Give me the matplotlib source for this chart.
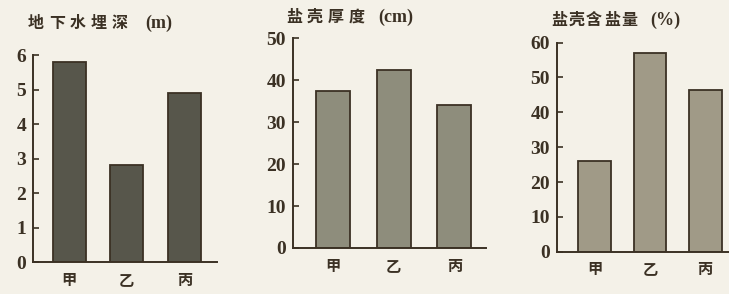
import matplotlib.pyplot as plt

plt.rcParams['font.family'] = ['Liberation Serif', 'Noto Sans CJK SC']

cats = ['甲', '乙', '丙']
depth = [5.8, 2.8, 4.9]        # 地下水埋深 (m)
crust = [37.5, 42.5, 34]       # 盐壳厚度 (cm)
salt = [26, 57, 46.5]          # 盐壳含盐量 (%)

titles = ['地下水埋深', '盐壳厚度', '盐壳含盐量']
units = ['(m)', '(cm)', '(%)']
yticks = [range(0, 7), range(0, 51, 10), range(0, 61, 10)]
ylims = [6, 50, 60]

bg = '#f4f1e8'
ink = '#3b3124'

fig = plt.figure(figsize=(7.29, 2.94), dpi=100, facecolor=bg)

# axes boxes in figure fraction
boxes = [[0.0453, 0.1088, 0.2524, 0.704],
         [0.4019, 0.1565, 0.2647, 0.713],
         [0.764, 0.1439, 0.236, 0.711]]
xlims = [(-0.63, 2.57), (-0.66, 2.52), (-0.68, 2.43)]
widths = [0.57, 0.56, 0.59]
colors = ['#57564b', '#8e8d7c', '#a09a87']
# title: x of first char (px), x of unit (px), y centre (px)
tpos = [(28, 145, 23), (286, 378, 17), (551, 650, 20)]
tspace = [21, 21, 17.6]

for i, vals in enumerate([depth, crust, salt]):
    ax = fig.add_axes(boxes[i])
    ax.set_facecolor(bg)
    ax.bar(range(3), vals, width=widths[i], color=colors[i],
           edgecolor=ink, linewidth=1.3)
    ax.set_xlim(*xlims[i])
    ax.set_ylim(0, ylims[i])
    ax.set_yticks(list(yticks[i]))
    ax.set_xticks(range(3))
    ax.set_xticklabels(cats, family=['Noto Sans CJK SC'], fontsize=11,
                       fontweight='bold', color=ink)
    ax.tick_params(axis='y', direction='in', length=4, width=1.2, colors=ink,
                   labelsize=14, pad=5)
    ax.tick_params(axis='x', length=0, pad=7)
    for lab in ax.get_yticklabels():
        lab.set_fontweight('bold')
    for s in ['top', 'right']:
        ax.spines[s].set_visible(False)
    for s in ['left', 'bottom']:
        ax.spines[s].set_color(ink)
        ax.spines[s].set_linewidth(1.4)
    x0, xu, yc = tpos[i]
    for k, ch in enumerate(titles[i]):
        fig.text((x0 + k * tspace[i]) / 729, 1 - yc / 294, ch, fontsize=11.5,
                 fontweight='bold', color=ink, va='center',
                 family=['Noto Sans CJK SC'])
    fig.text(xu / 729, 1 - yc / 294, units[i], fontsize=13,
             fontweight='bold', color=ink, va='center',
             family=['Liberation Serif'])

fig.savefig('out.png', dpi=100, facecolor=bg)
